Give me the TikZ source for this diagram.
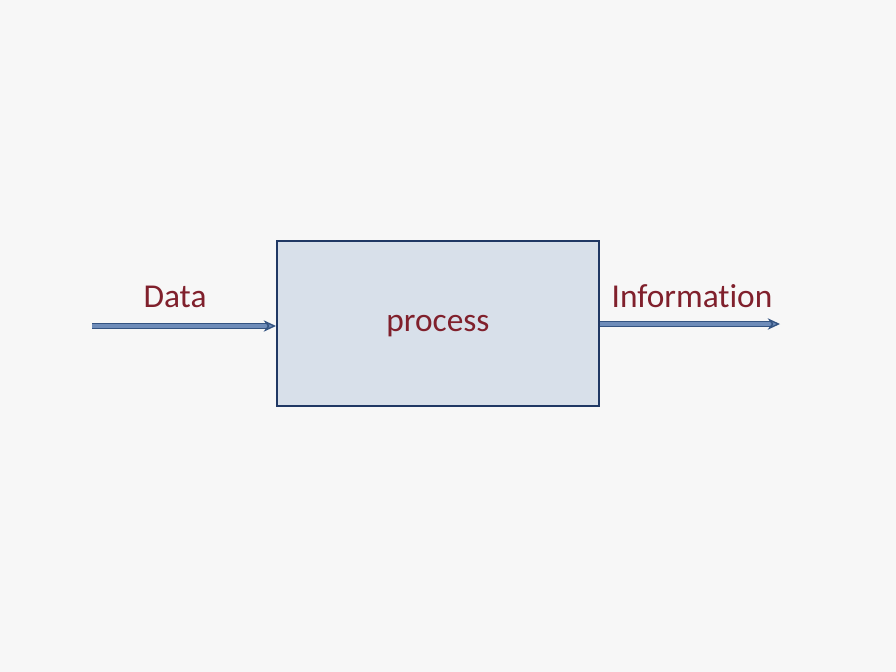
\documentclass[tikz,border=0pt]{standalone}
\usepackage{fontspec}
\setmainfont[Ligatures={NoCommon,NoRare}]{Carlito}
\usetikzlibrary{arrows.meta}
\definecolor{pagebg}{RGB}{247,247,247}
\definecolor{boxfill}{RGB}{216,224,234}
\definecolor{boxline}{RGB}{32,56,100}
\definecolor{arrowline}{RGB}{52,84,130}
\definecolor{arrowmid}{RGB}{110,140,185}
\definecolor{labelred}{RGB}{128,32,44}
\begin{document}
\begin{tikzpicture}[x=0.02cm, y=-0.02cm]
            \fill[pagebg] (0,0) rectangle (896,672);
            \useasboundingbox (0,0) rectangle (896,672);
            \begin{scope}[every node/.style={draw=boxline, line width=1.2pt, fill=boxfill, minimum width=6.44cm, minimum height=3.3cm, text depth=0pt, text=labelred, font=\fontsize{19}{22}\selectfont}]
            \node (proc) at (438,323.5) {process};
            \end{scope}
            \coordinate (din) at (92,326);
            \coordinate (iout) at (780,324);
            \begin{scope}[every node/.style={text=labelred, font=\fontsize{19}{22}\selectfont}]
            \node (data) at (175,297) {Data};
            \node (info) at (692,296) {Information};
            \end{scope}
            \begin{scope}[every path/.style={draw=arrowline, double=arrowmid, double distance=1.8pt, line width=0.8pt, -{Stealth[length=7pt, width=6.5pt, fill=arrowmid]}}]
            \draw (din) -- (proc.west |- din);
            \draw (proc.east |- iout) -- (iout);
            \end{scope}
            \end{tikzpicture}
\end{document}
